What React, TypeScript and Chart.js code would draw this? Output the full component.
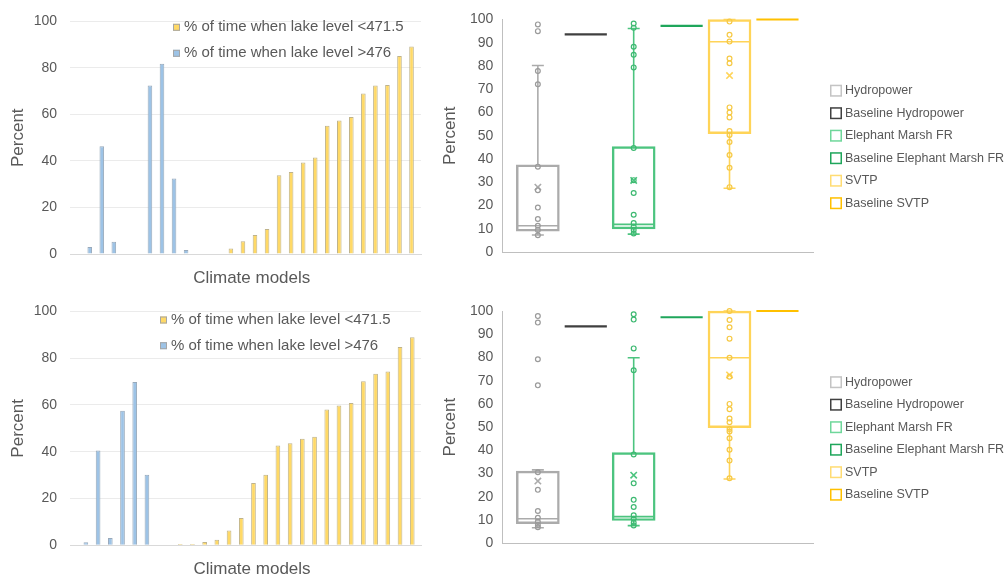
import React, { useEffect, useRef } from 'react';
import { Chart, registerables } from 'chart.js';

Chart.register(...registerables);

const FONT = "'Liberation Sans', Arial, Helvetica, sans-serif";
const TEXT = '#595959';
Chart.defaults.font.family = FONT;
Chart.defaults.color = TEXT;

// ---------------- Bar charts (climate models) ----------------
const models = [1, 2, 3, 4, 5, 6, 7, 8, 9, 10, 11, 12, 13, 14, 15, 16, 17, 18, 19, 20, 21, 22, 23, 24, 25, 26, 27, 28];
const DRY_LABEL = '% of time when lake level <471.5';
const WET_LABEL = '% of time when lake level >476';
const X_TITLE = 'Climate models';
const Y_TITLE = 'Percent';

const topDry = [null, null, null, null, null, null, null, null, null, null, null, null,
  2.4, 5.5, 8.2, 10.8, 33.9, 35.2, 39.3, 41.5, 55.1, 57.4, 58.9, 69.0, 72.4, 72.7, 85.1, 89.2];
const topWet = [3.0, 46.3, 5.3, null, null, 72.4, 81.8, 32.5, 1.7, null, null, null,
  null, null, null, null, null, null, null, null, null, null, null, null, null, null, null, null];
const bottomDry = [null, null, null, null, null, null, null, null,
  0.6, 0.6, 1.4, 2.4, 6.3, 11.7, 26.6, 30.2, 42.7, 43.6, 45.6, 46.4, 58.1, 59.8, 60.8, 70.1, 73.3, 74.3, 84.8, 89.0];
const bottomWet = [1.3, 40.5, 3.1, 57.5, 69.8, 30.2, null, null,
  null, null, null, null, null, null, null, null, null, null, null, null, null, null, null, null, null, null, null, null];

// ---------------- Box plots ----------------
const boxNames = ['Hydropower', 'Baseline Hydropower', 'Elephant Marsh FR', 'Baseline Elephant Marsh FR', 'SVTP', 'Baseline SVTP'];
const boxSlots = [0, 1, 2, 3, 4, 5];

// stats: [whisker low, Q1, median, Q3, whisker high]
const topHydroStats = [7.3, 9.0, 11.3, 37.5, 80.2];
const topHydroMean = 27.9;
const topHydroPoints = [97.9, 95.0, 77.8, 72.1, 36.7, 26.6, 19.1, 14.2, 11.3, 9.5, 7.2];
const topHydroBaseline = 93.6;
const topEMStats = [7.7, 9.9, 11.9, 45.3, 96.1];
const topEMMean = 30.8;
const topEMPoints = [98.3, 96.4, 88.3, 84.8, 79.4, 44.7, 30.9, 25.4, 16.0, 12.5, 10.9, 9.5, 8.0];
const topEMBaseline = 97.3;
const topSVTPStats = [27.4, 50.9, 90.4, 100, 100];
const topSVTPMean = 75.9;
const topSVTPPoints = [99.1, 93.4, 90.5, 83.2, 81.2, 62.2, 60.0, 57.9, 52.0, 50.3, 47.3, 41.7, 36.2, 27.9];
const topSVTPBaseline = 100;

const botHydroStats = [6.7, 8.5, 10.6, 31.1, 31.6];
const botHydroMean = 26.8;
const botHydroPoints = [97.8, 95.0, 79.2, 68.0, 30.6, 23.0, 13.9, 11.0, 9.3, 7.9, 6.9];
const botHydroBaseline = 93.4;
const botEMStats = [7.6, 9.8, 11.5, 39.0, 79.9];
const botEMMean = 29.3;
const botEMPoints = [98.6, 96.3, 83.9, 74.5, 38.2, 25.8, 18.7, 15.6, 12.1, 10.6, 8.9, 7.7];
const botEMBaseline = 97.3;
const botSVTPStats = [27.7, 49.8, 79.9, 100, 100];
const botSVTPMean = 72.5;
const botSVTPPoints = [100, 96.1, 93.0, 88.1, 79.9, 71.7, 60.0, 57.7, 53.7, 52.1, 49.2, 48.1, 45.2, 40.3, 35.6, 28.0];
const botSVTPBaseline = 100;

// ---------------- Styles ----------------
const boxLine = ['#ABABAB', '#3F3F3F', '#4CC47F', '#1FA65B', '#FFD458', '#FFC000'];
const boxPointColor = ['#9A9A9A', '#3F3F3F', '#3DB971', '#1FA65B', '#F6C945', '#FFC000'];
const legendBox = ['#C4C4C4', '#404040', '#6FD79B', '#1FA65B', '#FFDC73', '#FFC000'];
const BOX_W = 43;
const CAP = 0.125;
const HALF = 0.44;

const barLegendPlugin = {
  id: 'barLegend',
  afterDraw(chart: any, _a: any, opts: any) {
    const { ctx } = chart;
    ctx.save();
    ctx.font = `15px ${FONT}`;
    ctx.textBaseline = 'middle';
    ctx.textAlign = 'left';
    chart.data.datasets.forEach((ds: any, i: number) => {
      const y = opts.y + i * opts.spacing;
      ctx.fillStyle = ds.backgroundColor;
      ctx.fillRect(opts.x, y - 3.5, 7, 7);
      ctx.strokeStyle = '#A6A6A6';
      ctx.lineWidth = 1;
      ctx.strokeRect(opts.x + 0.5, y - 3, 6, 6);
      ctx.fillStyle = TEXT;
      ctx.fillText(ds.label, opts.x + 11, y);
    });
    ctx.restore();
  },
};

const boxLegendPlugin = {
  id: 'boxLegend',
  afterDraw(chart: any, _a: any, opts: any) {
    const { ctx, chartArea } = chart;
    ctx.save();
    ctx.font = `12.5px ${FONT}`;
    ctx.textBaseline = 'middle';
    ctx.textAlign = 'left';
    boxNames.forEach((name, i) => {
      const x = chartArea.right + opts.dx;
      const y = chartArea.top + opts.dy + i * opts.spacing;
      ctx.strokeStyle = legendBox[i];
      ctx.lineWidth = 1.5;
      ctx.strokeRect(x + 0.75, y - 5.25, 10.5, 10.5);
      ctx.fillStyle = TEXT;
      ctx.fillText(name, x + 15, y);
    });
    ctx.restore();
  },
};

function barConfig(dry: (number | null)[], wet: (number | null)[], o: any) {
  const toPts = (arr: (number | null)[]) =>
    arr.map((v, i) => ({ x: models[i], y: v })).filter((p) => p.y !== null);
  return {
    type: 'bar',
    data: {
      datasets: [
        { label: DRY_LABEL, data: toPts(dry), backgroundColor: '#FFD966', borderColor: '#BFB38A', borderWidth: 1, categoryPercentage: 0.55, barPercentage: 1.39 },
        { label: WET_LABEL, data: toPts(wet), backgroundColor: '#9DC3E6', borderColor: '#98A9BA', borderWidth: 1, categoryPercentage: 0.55, barPercentage: 1.39 },
      ],
    },
    options: {
      animation: false,
      responsive: false,
      layout: { padding: { top: o.top, right: 9, bottom: 0, left: 0 } },
      plugins: {
        legend: { display: false },
        tooltip: { enabled: false },
        barLegend: { x: o.legX, y: o.legY, spacing: o.legSpacing },
      },
      scales: {
        x: {
          type: 'linear',
          min: o.xMin,
          max: o.xMax,
          offset: false,
          grid: { display: false, drawTicks: false },
          border: { display: true, color: '#D9D9D9' },
          afterBuildTicks: (s: any) => { s.ticks = [{ value: o.titleAt }]; },
          ticks: { callback: () => X_TITLE, font: { size: 17 }, color: TEXT, padding: o.titlePad, autoSkip: false, maxRotation: 0 },
          afterFit: (s: any) => { s.height = o.xHeight; },
        },
        y: {
          type: 'linear',
          min: 0,
          max: 100,
          ticks: { stepSize: 20, font: { size: 14 }, color: TEXT, padding: 13 },
          grid: { color: '#EBEBEB', drawTicks: false },
          border: { display: false },
          title: { display: true, text: Y_TITLE, font: { size: 17 }, color: TEXT, padding: { top: 7.8, bottom: 0 } },
          afterFit: (s: any) => { s.width = 70; },
        },
      },
    },
    plugins: [barLegendPlugin],
  };
}

function boxConfig(stats: number[][], means: number[], points: number[][], baselines: number[], o: any) {
  const boxIdx = [0, 2, 4];
  const baseIdx = [1, 3, 5];
  const ds: any[] = [];
  boxIdx.forEach((slot, k) => {
    const x = boxSlots[slot];
    ds.push({
      type: 'line', label: boxNames[slot], clip: false,
      data: points[k].map((v) => ({ x, y: v })),
      showLine: false, pointStyle: 'circle', pointRadius: 2.4, pointBorderWidth: 1.2,
      pointBorderColor: boxPointColor[slot], pointBackgroundColor: 'rgba(255,255,255,0)', borderColor: boxPointColor[slot],
    });
    ds.push({
      type: 'line', label: boxNames[slot] + ' mean', clip: false,
      data: [{ x, y: means[k] }],
      showLine: false, pointStyle: 'crossRot', pointRadius: 4.5, pointBorderWidth: 1.6,
      pointBorderColor: boxLine[slot], borderColor: boxLine[slot],
    });
    const [wl, q1, med, q3, wh] = stats[k];
    ds.push({
      type: 'line', label: boxNames[slot] + ' whiskers', clip: false,
      data: [
        { x: x - CAP, y: wl }, { x: x + CAP, y: wl }, { x, y: null },
        { x, y: wl }, { x, y: q1 }, { x, y: null },
        { x, y: q3 }, { x, y: wh }, { x, y: null },
        { x: x - CAP, y: wh }, { x: x + CAP, y: wh }, { x, y: null },
        { x: x - HALF, y: med }, { x: x + HALF, y: med },
      ],
      borderColor: boxLine[slot], borderWidth: 1.6, pointRadius: 0, spanGaps: false, fill: false, tension: 0,
    });
  });
  baseIdx.forEach((slot, k) => {
    const x = boxSlots[slot];
    ds.push({
      type: 'line', label: boxNames[slot], clip: false,
      data: [{ x: x - HALF, y: baselines[k] }, { x: x + HALF, y: baselines[k] }],
      borderColor: boxLine[slot], borderWidth: 2.2, pointRadius: 0, fill: false,
    });
  });
  ds.push({
    type: 'bar', label: 'boxes', clip: false,
    data: boxIdx.map((slot, k) => ({ x: boxSlots[slot], y: [stats[k][1], stats[k][3]] })),
    backgroundColor: 'rgba(0,0,0,0)',
    borderColor: boxIdx.map((s) => boxLine[s]),
    borderWidth: 1.8, borderSkipped: false, barThickness: BOX_W,
  });
  return {
    type: 'bar',
    data: { datasets: ds },
    options: {
      animation: false,
      responsive: false,
      layout: { padding: { top: o.top, right: 193, bottom: 0, left: 0 } },
      plugins: {
        legend: { display: false },
        tooltip: { enabled: false },
        boxLegend: { dx: 17, dy: 71.2, spacing: 22.5 },
      },
      scales: {
        x: {
          type: 'linear', min: -0.742, max: 5.742, offset: false,
          grid: { display: false, drawTicks: false },
          ticks: { display: false },
          border: { display: true, color: '#BFBFBF' },
          afterFit: (s: any) => { s.height = o.xHeight; },
        },
        y: {
          type: 'linear', min: 0, max: 100,
          ticks: { stepSize: 10, font: { size: 14 }, color: TEXT, padding: 9 },
          grid: { display: false, drawTicks: false },
          border: { display: true, color: '#BFBFBF' },
          title: { display: true, text: Y_TITLE, font: { size: 17 }, color: TEXT, padding: { top: 9.8, bottom: 0 } },
          afterFit: (s: any) => { s.width = 72.3; },
        },
      },
    },
    plugins: [boxLegendPlugin],
  };
}

function ChartCanvas({ left, top, width, height, build }: any) {
  const ref = useRef<HTMLCanvasElement>(null);
  useEffect(() => {
    const chart = new Chart(ref.current as HTMLCanvasElement, build());
    return () => chart.destroy();
  }, []);
  return (
    <canvas ref={ref} width={width} height={height}
      style={{ position: 'absolute', left, top, width, height }} />
  );
}

export default function App() {
  return (
    <div style={{ position: 'absolute', left: 0, top: 0, width: 1006, height: 577, background: '#fff', overflow: 'hidden' }}>
      <ChartCanvas left={0} top={0} width={430} height={290}
        build={() => barConfig(topDry, topWet, {
          top: 19.3, xHeight: 36, xMin: -0.503, xMax: 28.65, titleAt: 14.59, titlePad: 14,
          legX: 173, legY: 27.3, legSpacing: 26,
        })} />
      <ChartCanvas left={0} top={290} width={430} height={287}
        build={() => barConfig(bottomDry, bottomWet, {
          top: 21, xHeight: 31.7, xMin: -0.163, xMax: 28.58, titleAt: 14.74, titlePad: 13.5,
          legX: 160, legY: 30, legSpacing: 25.7,
        })} />
      <ChartCanvas left={430} top={0} width={576} height={290}
        build={() => boxConfig(
          [topHydroStats, topEMStats, topSVTPStats],
          [topHydroMean, topEMMean, topSVTPMean],
          [topHydroPoints, topEMPoints, topSVTPPoints],
          [topHydroBaseline, topEMBaseline, topSVTPBaseline],
          { top: 19.5, xHeight: 38 })} />
      <ChartCanvas left={430} top={290} width={576} height={287}
        build={() => boxConfig(
          [botHydroStats, botEMStats, botSVTPStats],
          [botHydroMean, botEMMean, botSVTPMean],
          [botHydroPoints, botEMPoints, botSVTPPoints],
          [botHydroBaseline, botEMBaseline, botSVTPBaseline],
          { top: 21, xHeight: 33.7 })} />
    </div>
  );
}
